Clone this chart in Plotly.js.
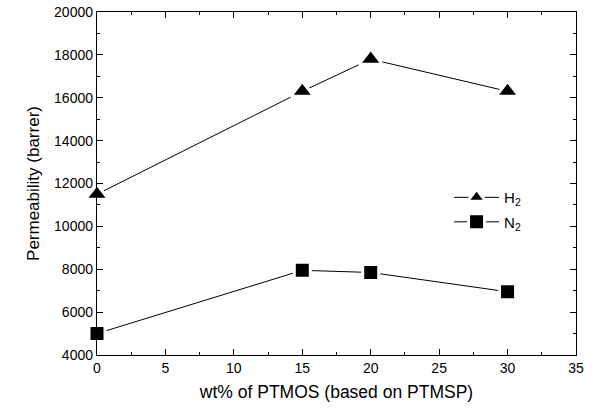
<!DOCTYPE html>
<html>
<head>
<meta charset="utf-8">
<script src="https://cdn.plot.ly/plotly-3.0.1.min.js"></script>
<style>html,body{margin:0;padding:0;background:#fff;}#chart{width:594px;height:409px;}</style>
</head>
<body>
<div id="chart"></div>
<script>
var ptmosWt = [0, 15, 20, 30];
var h2Perm = [11500, 16300, 17800, 16300];
var n2Perm = [5000, 7950, 7850, 6950];
var seriesNames = ['H<sub>2</sub>', 'N<sub>2</sub>'];
var xTickVals = [0, 5, 10, 15, 20, 25, 30, 35];
var xTickText = ['0', '5', '10', '15', '20', '25', '30', '35'];
var yTickVals = [4000, 6000, 8000, 10000, 12000, 14000, 16000, 18000, 20000];
var yTickText = ['4000', '6000', '8000', '10000', '12000', '14000', '16000', '18000', '20000'];

var font = 'Liberation Sans, Arial, sans-serif';

var traces = [
  {
    x: ptmosWt, y: h2Perm, name: seriesNames[0], type: 'scatter', mode: 'lines+markers',
    legendgroup: 'h2',
    line: {color: '#000', width: 1},
    marker: {symbol: 'triangle-up', size: 20, color: '#000', line: {color: '#fff', width: 3}},
    cliponaxis: false
  },
  {
    x: ptmosWt, y: n2Perm, name: seriesNames[1], type: 'scatter', mode: 'lines+markers',
    legendgroup: 'n2',
    line: {color: '#000', width: 1},
    marker: {symbol: 'square', size: 16, color: '#000', line: {color: '#fff', width: 3}},
    cliponaxis: false
  }
];

var axisCommon = {
  showgrid: false, zeroline: false, showline: true, linecolor: '#000', linewidth: 1.2,
  mirror: 'ticks', ticks: 'inside', ticklen: 6, tickwidth: 1, tickcolor: '#000',
  tickmode: 'array',
  tickfont: {family: font, size: 14, color: '#000'}
};

var layout = {
  width: 594, height: 409,
  margin: {l: 97, r: 18, t: 12, b: 54},
  paper_bgcolor: '#fff', plot_bgcolor: '#fff',
  showlegend: true,
  legend: {
    x: 0.735, y: 0.507, xanchor: 'left', yanchor: 'top',
    bgcolor: 'rgba(0,0,0,0)', font: {family: font, size: 15, color: '#000'},
    traceorder: 'grouped', tracegroupgap: 2, itemwidth: 45
  },
  xaxis: Object.assign({}, axisCommon, {
    range: [0, 35], tickvals: xTickVals, ticktext: xTickText,
    minor: {dtick: 2.5, tick0: 0, ticks: 'inside', ticklen: 3, tickcolor: '#000', tickwidth: 1},
    title: {text: 'wt% of PTMOS (based on PTMSP)', font: {family: font, size: 17.5, color: '#000'}, standoff: 10}
  }),
  yaxis: Object.assign({}, axisCommon, {
    range: [4000, 20000], tickvals: yTickVals, ticktext: yTickText,
    minor: {dtick: 1000, tick0: 0, ticks: 'inside', ticklen: 3, tickcolor: '#000', tickwidth: 1},
    title: {text: 'Permeability (barrer)', font: {family: font, size: 17, color: '#000'}, standoff: 10}
  })
};

Plotly.newPlot('chart', traces, layout, {displayModeBar: false, staticPlot: true});
</script>
</body>
</html>
